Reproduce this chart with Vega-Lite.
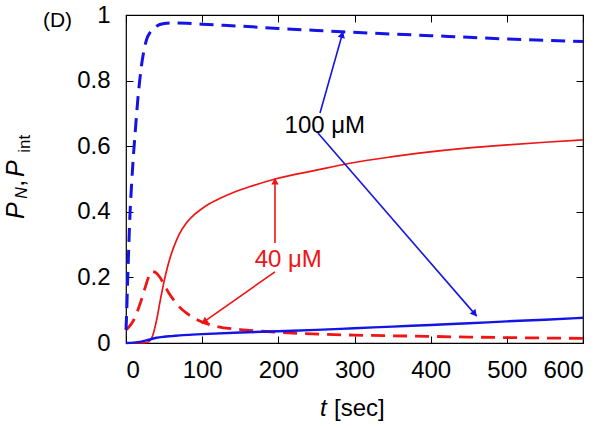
{
  "$schema": "https://vega.github.io/schema/vega-lite/v6.json",
  "width": 457,
  "height": 328,
  "autosize": {"type": "none"},
  "padding": {"left": 126, "top": 15, "right": 30, "bottom": 85},
  "config": {
    "font": "Liberation Sans",
    "view": {"stroke": "black", "strokeWidth": 1.2},
    "axis": {"domain": false, "grid": false, "tickColor": "black", "tickSize": -7, "tickWidth": 1, "labelFont": "Liberation Sans", "labelFontSize": 24, "labelColor": "black", "title": null}
  },
  "datasets": {
    "curves": [
      {"series": "bN", "t": 0, "v": 0.04}, {"series": "bN", "t": 1, "v": 0.1}, {"series": "bN", "t": 2, "v": 0.18}, {"series": "bN", "t": 3, "v": 0.25}, {"series": "bN", "t": 5, "v": 0.38}, {"series": "bN", "t": 7, "v": 0.47}, {"series": "bN", "t": 10, "v": 0.58}, {"series": "bN", "t": 12, "v": 0.64}, {"series": "bN", "t": 14, "v": 0.7}, {"series": "bN", "t": 16, "v": 0.755}, {"series": "bN", "t": 18, "v": 0.8}, {"series": "bN", "t": 20, "v": 0.84}, {"series": "bN", "t": 23, "v": 0.885}, {"series": "bN", "t": 27, "v": 0.925}, {"series": "bN", "t": 32, "v": 0.948}, {"series": "bN", "t": 40, "v": 0.966}, {"series": "bN", "t": 50, "v": 0.974}, {"series": "bN", "t": 62, "v": 0.976}, {"series": "bN", "t": 80, "v": 0.975}, {"series": "bN", "t": 100, "v": 0.972}, {"series": "bN", "t": 150, "v": 0.966}, {"series": "bN", "t": 200, "v": 0.959}, {"series": "bN", "t": 250, "v": 0.953}, {"series": "bN", "t": 283, "v": 0.949}, {"series": "bN", "t": 350, "v": 0.942}, {"series": "bN", "t": 400, "v": 0.937}, {"series": "bN", "t": 450, "v": 0.932}, {"series": "bN", "t": 500, "v": 0.927}, {"series": "bN", "t": 550, "v": 0.923}, {"series": "bN", "t": 600, "v": 0.919},
      {"series": "bI", "t": 0, "v": 0}, {"series": "bI", "t": 10, "v": 0.001}, {"series": "bI", "t": 20, "v": 0.004}, {"series": "bI", "t": 30, "v": 0.01}, {"series": "bI", "t": 40, "v": 0.016}, {"series": "bI", "t": 50, "v": 0.019}, {"series": "bI", "t": 60, "v": 0.021}, {"series": "bI", "t": 75, "v": 0.024}, {"series": "bI", "t": 100, "v": 0.027}, {"series": "bI", "t": 150, "v": 0.032}, {"series": "bI", "t": 200, "v": 0.036}, {"series": "bI", "t": 250, "v": 0.04}, {"series": "bI", "t": 300, "v": 0.045}, {"series": "bI", "t": 350, "v": 0.05}, {"series": "bI", "t": 400, "v": 0.055}, {"series": "bI", "t": 450, "v": 0.06}, {"series": "bI", "t": 500, "v": 0.066}, {"series": "bI", "t": 550, "v": 0.071}, {"series": "bI", "t": 600, "v": 0.077},
      {"series": "rI", "t": 0, "v": 0}, {"series": "rI", "t": 20, "v": 0}, {"series": "rI", "t": 27, "v": 0.001}, {"series": "rI", "t": 31, "v": 0.006}, {"series": "rI", "t": 35, "v": 0.022}, {"series": "rI", "t": 40, "v": 0.068}, {"series": "rI", "t": 45, "v": 0.13}, {"series": "rI", "t": 50, "v": 0.188}, {"series": "rI", "t": 55, "v": 0.236}, {"series": "rI", "t": 60, "v": 0.275}, {"series": "rI", "t": 65, "v": 0.306}, {"series": "rI", "t": 70, "v": 0.332}, {"series": "rI", "t": 80, "v": 0.368}, {"series": "rI", "t": 90, "v": 0.392}, {"series": "rI", "t": 100, "v": 0.41}, {"series": "rI", "t": 110, "v": 0.425}, {"series": "rI", "t": 125, "v": 0.443}, {"series": "rI", "t": 141, "v": 0.459}, {"series": "rI", "t": 163, "v": 0.477}, {"series": "rI", "t": 196, "v": 0.5}, {"series": "rI", "t": 250, "v": 0.527}, {"series": "rI", "t": 294, "v": 0.548}, {"series": "rI", "t": 350, "v": 0.568}, {"series": "rI", "t": 382, "v": 0.578}, {"series": "rI", "t": 450, "v": 0.595}, {"series": "rI", "t": 500, "v": 0.604}, {"series": "rI", "t": 550, "v": 0.612}, {"series": "rI", "t": 600, "v": 0.619},
      {"series": "rN", "t": 0, "v": 0.04}, {"series": "rN", "t": 5, "v": 0.052}, {"series": "rN", "t": 10, "v": 0.07}, {"series": "rN", "t": 15, "v": 0.097}, {"series": "rN", "t": 20, "v": 0.13}, {"series": "rN", "t": 25, "v": 0.168}, {"series": "rN", "t": 30, "v": 0.203}, {"series": "rN", "t": 34, "v": 0.218}, {"series": "rN", "t": 38, "v": 0.216}, {"series": "rN", "t": 44, "v": 0.202}, {"series": "rN", "t": 50, "v": 0.178}, {"series": "rN", "t": 56, "v": 0.153}, {"series": "rN", "t": 62, "v": 0.133}, {"series": "rN", "t": 70, "v": 0.11}, {"series": "rN", "t": 80, "v": 0.09}, {"series": "rN", "t": 90, "v": 0.075}, {"series": "rN", "t": 100, "v": 0.064}, {"series": "rN", "t": 120, "v": 0.05}, {"series": "rN", "t": 150, "v": 0.041}, {"series": "rN", "t": 185, "v": 0.035}, {"series": "rN", "t": 230, "v": 0.029}, {"series": "rN", "t": 300, "v": 0.024}, {"series": "rN", "t": 380, "v": 0.021}, {"series": "rN", "t": 450, "v": 0.018}, {"series": "rN", "t": 520, "v": 0.016}, {"series": "rN", "t": 600, "v": 0.014}
    ],
    "arrows": [
      {"conc": "100", "t1": 254.7, "v1": 0.701, "t2": 284.9, "v2": 0.949},
      {"conc": "100", "t1": 252, "v1": 0.64, "t2": 460.4, "v2": 0.082},
      {"conc": "40", "t1": 195.6, "v1": 0.305, "t2": 195.6, "v2": 0.502},
      {"conc": "40", "t1": 195.6, "v1": 0.217, "t2": 99.4, "v2": 0.06}
    ]
  },
  "resolve": {"axis": {"x": "independent", "y": "independent"}},
  "layer": [
    {
      "data": {"name": "curves"},
      "transform": [{"filter": "datum.series === 'rN'"}],
      "mark": {"type": "line", "color": "#f01414", "strokeWidth": 2.8, "strokeDash": [14, 8], "interpolate": "monotone"},
      "encoding": {
        "x": {"field": "t", "type": "quantitative", "scale": {"domain": [0, 600], "nice": false, "zero": false}, "axis": {"orient": "bottom", "values": [0, 100, 200, 300, 400, 500, 600], "labelPadding": 22}},
        "y": {"field": "v", "type": "quantitative", "scale": {"domain": [0, 1], "nice": false}, "axis": {"orient": "left", "values": [0, 0.2, 0.4, 0.6, 0.8, 1], "format": "~g", "labelPadding": 23}}
      }
    },
    {
      "data": {"name": "curves"},
      "transform": [{"filter": "datum.series === 'rI'"}],
      "mark": {"type": "line", "color": "#f01414", "strokeWidth": 1.7, "interpolate": "monotone"},
      "encoding": {
        "x": {"field": "t", "type": "quantitative", "axis": {"orient": "top", "values": [0, 100, 200, 300, 400, 500, 600], "labels": false}},
        "y": {"field": "v", "type": "quantitative", "axis": {"orient": "right", "values": [0, 0.2, 0.4, 0.6, 0.8, 1], "labels": false}}
      }
    },
    {
      "data": {"name": "curves"},
      "transform": [{"filter": "datum.series === 'bI'"}],
      "mark": {"type": "line", "color": "#1414e6", "strokeWidth": 2.4, "interpolate": "monotone"},
      "encoding": {
        "x": {"field": "t", "type": "quantitative", "axis": null},
        "y": {"field": "v", "type": "quantitative", "axis": null}
      }
    },
    {
      "data": {"name": "curves"},
      "transform": [{"filter": "datum.series === 'bN'"}],
      "mark": {"type": "line", "color": "#1414e6", "strokeWidth": 3, "strokeDash": [14, 8], "interpolate": "monotone"},
      "encoding": {
        "x": {"field": "t", "type": "quantitative", "axis": null},
        "y": {"field": "v", "type": "quantitative", "axis": null}
      }
    },
    {
      "data": {"name": "arrows"},
      "mark": {"type": "rule", "strokeWidth": 1.6},
      "encoding": {
        "x": {"field": "t1", "type": "quantitative", "axis": null},
        "y": {"field": "v1", "type": "quantitative", "axis": null},
        "x2": {"field": "t2"},
        "y2": {"field": "v2"},
        "color": {"field": "conc", "type": "nominal", "scale": {"domain": ["100", "40"], "range": ["#1414e6", "#f01414"]}, "legend": null}
      }
    },
    {
      "data": {"values": [{"t": 283.8, "v": 0.94}]},
      "mark": {"type": "point", "shape": "triangle-up", "filled": true, "size": 55, "angle": 15.8, "color": "#1414e6", "opacity": 1},
      "encoding": {"x": {"field": "t", "type": "quantitative", "axis": null}, "y": {"field": "v", "type": "quantitative", "axis": null}}
    },
    {
      "data": {"values": [{"t": 457.8, "v": 0.0893}]},
      "mark": {"type": "point", "shape": "triangle-up", "filled": true, "size": 55, "angle": 139.1, "color": "#1414e6", "opacity": 1},
      "encoding": {"x": {"field": "t", "type": "quantitative", "axis": null}, "y": {"field": "v", "type": "quantitative", "axis": null}}
    },
    {
      "data": {"values": [{"t": 195.6, "v": 0.493}]},
      "mark": {"type": "point", "shape": "triangle-up", "filled": true, "size": 55, "angle": 0, "color": "#f01414", "opacity": 1},
      "encoding": {"x": {"field": "t", "type": "quantitative", "axis": null}, "y": {"field": "v", "type": "quantitative", "axis": null}}
    },
    {
      "data": {"values": [{"t": 102.7, "v": 0.065}]},
      "mark": {"type": "point", "shape": "triangle-up", "filled": true, "size": 55, "angle": 234.9, "color": "#f01414", "opacity": 1},
      "encoding": {"x": {"field": "t", "type": "quantitative", "axis": null}, "y": {"field": "v", "type": "quantitative", "axis": null}}
    },
    {
      "data": {"values": [{"label": "100 μM", "t": 261, "v": 0.662}]},
      "mark": {"type": "text", "fontSize": 24, "color": "black", "align": "center", "baseline": "middle"},
      "encoding": {"x": {"field": "t", "type": "quantitative", "axis": null}, "y": {"field": "v", "type": "quantitative", "axis": null}, "text": {"field": "label"}}
    },
    {
      "data": {"values": [{"label": "40 μM", "t": 213, "v": 0.253}]},
      "mark": {"type": "text", "fontSize": 24, "color": "#f01414", "align": "center", "baseline": "middle"},
      "encoding": {"x": {"field": "t", "type": "quantitative", "axis": null}, "y": {"field": "v", "type": "quantitative", "axis": null}, "text": {"field": "label"}}
    },
    {
      "data": {"values": [{"label": "(D)", "t": -89.9, "v": 0.982}]},
      "mark": {"type": "text", "fontSize": 21, "color": "black", "align": "center", "baseline": "middle"},
      "encoding": {"x": {"field": "t", "type": "quantitative", "axis": null}, "y": {"field": "v", "type": "quantitative", "axis": null}, "text": {"field": "label"}}
    },
    {
      "data": {"values": [{"label": "t", "t": 254.7, "v": -0.2226}]},
      "mark": {"type": "text", "fontSize": 24, "fontStyle": "italic", "color": "black", "align": "left", "baseline": "alphabetic"},
      "encoding": {"x": {"field": "t", "type": "quantitative", "axis": null}, "y": {"field": "v", "type": "quantitative", "axis": null}, "text": {"field": "label"}}
    },
    {
      "data": {"values": [{"label": "[sec]", "t": 273.1, "v": -0.2226}]},
      "mark": {"type": "text", "fontSize": 24, "color": "black", "align": "left", "baseline": "alphabetic"},
      "encoding": {"x": {"field": "t", "type": "quantitative", "axis": null}, "y": {"field": "v", "type": "quantitative", "axis": null}, "text": {"field": "label"}}
    },
    {
      "data": {"values": [{"label": "P", "t": -133.9, "v": 0.378}, {"label": "P", "t": -133.9, "v": 0.506}]},
      "mark": {"type": "text", "fontSize": 25, "fontStyle": "italic", "color": "black", "align": "left", "baseline": "alphabetic", "angle": 270},
      "encoding": {"x": {"field": "t", "type": "quantitative", "axis": null}, "y": {"field": "v", "type": "quantitative", "axis": null}, "text": {"field": "label"}}
    },
    {
      "data": {"values": [{"label": ",", "t": -133.9, "v": 0.476}]},
      "mark": {"type": "text", "fontSize": 25, "color": "black", "align": "left", "baseline": "alphabetic", "angle": 270},
      "encoding": {"x": {"field": "t", "type": "quantitative", "axis": null}, "y": {"field": "v", "type": "quantitative", "axis": null}, "text": {"field": "label"}}
    },
    {
      "data": {"values": [{"label": "N", "t": -130.0, "v": 0.44}]},
      "mark": {"type": "text", "fontSize": 16, "fontStyle": "italic", "color": "black", "align": "left", "baseline": "alphabetic", "angle": 270},
      "encoding": {"x": {"field": "t", "type": "quantitative", "axis": null}, "y": {"field": "v", "type": "quantitative", "axis": null}, "text": {"field": "label"}}
    },
    {
      "data": {"values": [{"label": "int", "t": -126.0, "v": 0.58}]},
      "mark": {"type": "text", "fontSize": 17, "color": "black", "align": "left", "baseline": "alphabetic", "angle": 270},
      "encoding": {"x": {"field": "t", "type": "quantitative", "axis": null}, "y": {"field": "v", "type": "quantitative", "axis": null}, "text": {"field": "label"}}
    }
  ]
}
